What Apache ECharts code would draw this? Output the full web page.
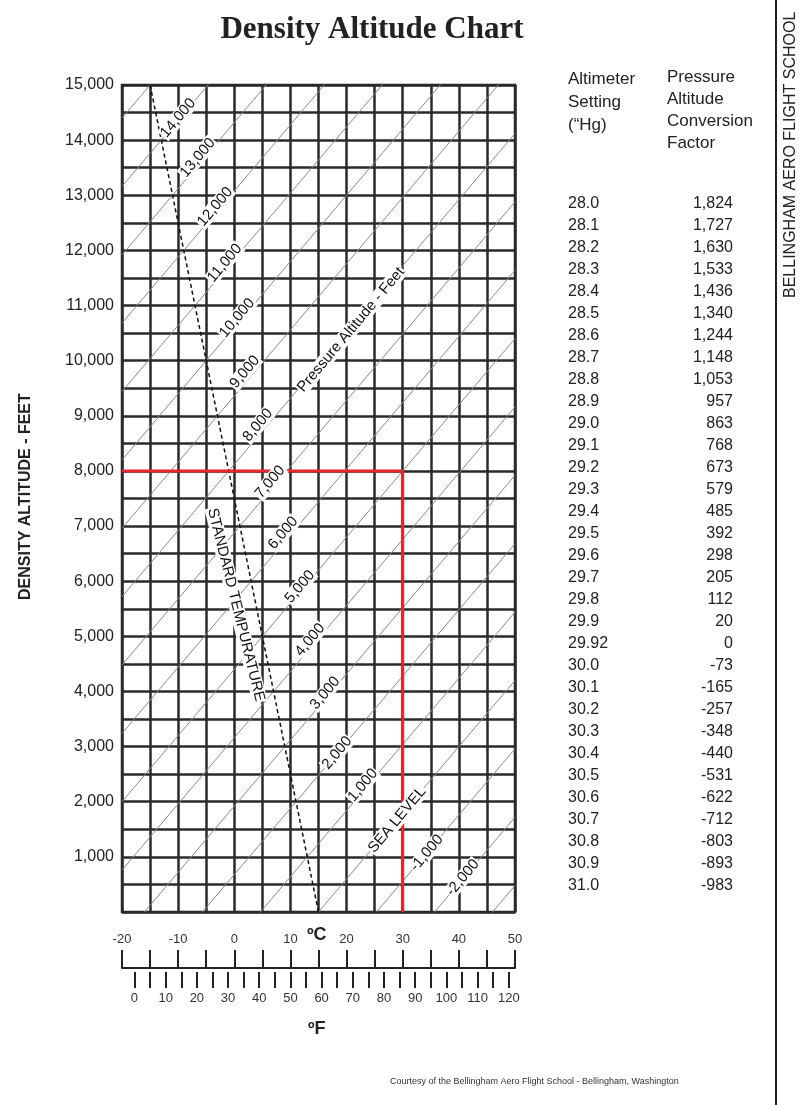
<!DOCTYPE html>
<html><head><meta charset="utf-8">
<script src="https://cdn.jsdelivr.net/npm/echarts@6/dist/echarts.min.js"></script>
<style>html,body{margin:0;padding:0;background:#fff}#c{width:800px;height:1105px}</style>
</head><body><div id="c"></div>
<script>
// Pressure altitude lines: density altitude at -20 °C and at 50 °C
const paLines = [-3000,-2000,-1000,0,1000,2000,3000,4000,5000,6000,7000,8000,9000,10000,11000,12000,13000,14000,15000];
const daAtMinus20 = [-7920,-6680,-5440,-4200,-2960,-1720,-480,760,2000,3240,4480,5720,6960,8200,9440,10680,11920,13160,14400];
const daAt50 = [480,1720,2960,4200,5440,6680,7920,9160,10400,11640,12880,14120,15360,16600,17840,19080,20320,21560,22800];
// Standard temperature line [°C, DA]
const stdTemp = [[15,0],[-15,15000]];
// Example red lines
const redH = [[-20,8000],[30,8000]];
const redV = [[30,8000],[30,0]];
// Line labels [°C, DA, text]
const lineLabels = [
 [-10.0,14400,'14,000'],[-6.5,13680,'13,000'],[-3.4,12790,'12,000'],[-1.7,11770,'11,000'],
 [0.5,10775,'10,000'],[1.9,9795,'9,000'],[4.2,8830,'8,000'],[6.4,7800,'7,000'],[8.7,6875,'6,000'],
 [11.7,5900,'5,000'],[13.5,4935,'4,000'],[16.2,3970,'3,000'],[18.3,2885,'2,000'],[22.9,2300,'1,000'],
 [29.0,1670,'SEA LEVEL'],[34.3,1070,'-1,000'],[40.7,620,'-2,000'],[20.8,10560,'Pressure Altitude - Feet']
];
const stdLabel = [[0.3,5570,'STANDARD TEMPURATURE']];
// Conversion table
const settings = ['28.0','28.1','28.2','28.3','28.4','28.5','28.6','28.7','28.8','28.9','29.0','29.1','29.2','29.3','29.4','29.5','29.6','29.7','29.8','29.9','29.92','30.0','30.1','30.2','30.3','30.4','30.5','30.6','30.7','30.8','30.9','31.0'];
const factors = ['1,824','1,727','1,630','1,533','1,436','1,340','1,244','1,148','1,053','957','863','768','673','579','485','392','298','205','112','20','0','-73','-165','-257','-348','-440','-531','-622','-712','-803','-893','-983'];
const cTicks = [-20,-15,-10,-5,0,5,10,15,20,25,30,35,40,45,50];
const cLabels = [-20,-10,0,10,20,30,40,50];
const fTicks = [0,5,10,15,20,25,30,35,40,45,50,55,60,65,70,75,80,85,90,95,100,105,110,115,120];
const fLabels = [0,10,20,30,40,50,60,70,80,90,100,110,120];

const F = 'Liberation Sans, Arial, sans-serif';
const series = [];
paLines.forEach((p,i)=>{
  series.push({type:'line',xAxisIndex:0,yAxisIndex:0,data:[[-20,daAtMinus20[i]],[50,daAt50[i]]],
    symbol:'none',silent:true,clip:true,lineStyle:{color:'#8a8a8a',width:1},z:2});
});
series.push({type:'line',data:stdTemp,symbol:'none',lineStyle:{color:'#111',width:1.5,type:[4,3]},z:4});
series.push({type:'line',data:redH,symbol:'none',lineStyle:{color:'#e8262b',width:3},z:5});
series.push({type:'line',data:redV,symbol:'none',lineStyle:{color:'#e8262b',width:3},z:5});
const lbl = (rot)=>({show:true,position:'inside',formatter:p=>p.data[2],rotate:rot,fontFamily:F,fontSize:15,
  color:'#111',opacity:1,textBorderWidth:0,backgroundColor:'#fff',padding:[0,1]});
series.push({type:'scatter',data:lineLabels,symbolSize:1,itemStyle:{opacity:0},z:6,label:lbl(50)});
series.push({type:'scatter',data:stdLabel,symbolSize:1,itemStyle:{opacity:0},z:6,label:lbl(-76)});

const graphic = [
 {type:'text',x:372,y:14,style:{text:'Density Altitude Chart',align:'center',font:'bold 31px "Liberation Serif", "Times New Roman", serif',fill:'#222'}},
 {type:'text',x:18,y:600,rotation:Math.PI/2,style:{text:'DENSITY ALTITUDE - FEET',font:'bold 16px '+F,fill:'#222'}},
 {type:'text',x:307,y:926,style:{text:'ºC',font:'bold 18px '+F,fill:'#222'}},
 {type:'text',x:308,y:1020,style:{text:'ºF',font:'bold 18px '+F,fill:'#222'}},
 {type:'text',x:568,y:68,style:{text:'Altimeter\nSetting\n(“Hg)',font:'17px '+F,lineHeight:23,fill:'#222'}},
 {type:'text',x:667,y:66,style:{text:'Pressure\nAltitude\nConversion\nFactor',font:'17px '+F,lineHeight:22,fill:'#222'}},
 {type:'line',shape:{x1:776,y1:0,x2:776,y2:1105},style:{stroke:'#222',lineWidth:2}},
 {type:'text',x:783,y:298,rotation:Math.PI/2,style:{text:'BELLINGHAM AERO FLIGHT SCHOOL',font:'16px '+F,fill:'#222'}},
 {type:'text',x:390,y:1077,style:{text:'Courtesy of the Bellingham Aero Flight School - Bellingham, Washington',font:'9px '+F,fill:'#333'}}
];
settings.forEach((s,i)=>{
  graphic.push({type:'text',x:568,y:196+i*22,style:{text:s,font:'16px '+F,fill:'#222'}});
  graphic.push({type:'text',x:733,y:196+i*22,style:{text:factors[i],font:'16px '+F,fill:'#222',align:'right'}});
});

const chart = echarts.init(document.getElementById('c'));
chart.setOption({
  animation:false,
  grid:[{left:122,right:285,top:85,bottom:193,show:true,borderColor:'#2a2a2a',borderWidth:2.5},
        {left:122,right:285,top:968,height:0}],
  xAxis:[
   {gridIndex:0,type:'value',min:-20,max:50,interval:5,axisLine:{show:false},axisTick:{show:false},axisLabel:{show:false},
    splitLine:{show:true,lineStyle:{color:'#2a2a2a',width:2.5}}},
   {gridIndex:1,type:'value',position:'top',min:-20,max:50,interval:5,
    axisLine:{show:true,lineStyle:{color:'#222',width:2}},
    axisTick:{show:true,customValues:cTicks,length:18,lineStyle:{color:'#222',width:2}},
    axisLabel:{show:true,customValues:cLabels,margin:22,fontFamily:F,fontSize:13,color:'#333'},splitLine:{show:false}},
   {gridIndex:1,type:'value',position:'bottom',min:-4,max:122,offset:4,
    axisLine:{show:false},
    axisTick:{show:true,customValues:fTicks,length:16,lineStyle:{color:'#222',width:2}},
    axisLabel:{show:true,customValues:fLabels,margin:20,fontFamily:F,fontSize:13,color:'#333'},splitLine:{show:false}}
  ],
  yAxis:[
   {gridIndex:0,type:'value',min:0,max:15000,interval:500,axisLine:{show:false},axisTick:{show:false},
    axisLabel:{fontFamily:F,fontSize:16,color:'#222',margin:8,
      formatter:v=>(v===0||v%1000!==0)?'':v.toLocaleString('en-US')},
    splitLine:{show:true,lineStyle:{color:'#2a2a2a',width:2.5}}},
   {gridIndex:1,type:'value',show:false}
  ],
  series:series,
  graphic:graphic
});
</script></body></html>
